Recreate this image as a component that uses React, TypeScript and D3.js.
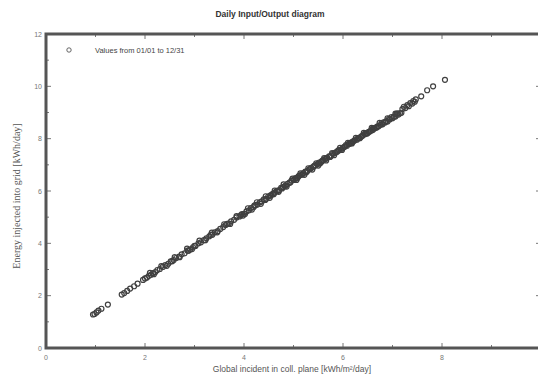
import * as d3 from 'd3';

const WIDTH = 538, HEIGHT = 379;
const M = { left: 46, right: 541, top: 34, bottom: 348 };

const TITLE = 'Daily Input/Output diagram';
const X_LABEL = 'Global incident in coll. plane [kWh/m\u00b2/day]';
const Y_LABEL = 'Energy injected into grid [kWh/day]';
const LEGEND = 'Values from 01/01 to 12/31';

const xTicks = [0, 2, 4, 6, 8];
const yTicks = [0, 2, 4, 6, 8, 10, 12];

// daily global incident irradiation (x) and energy into grid (y)
const irradiance = [
  0.95, 0.98, 1.02, 1.06, 1.12, 1.25, 1.53, 1.58, 1.64, 1.70, 1.78, 1.85, 1.96, 2.00, 2.04, 2.08,
  2.12, 2.16, 2.21, 2.25, 2.30, 2.36, 2.41, 2.47, 2.52, 2.58, 2.63, 2.69, 2.74, 2.80, 2.86, 2.91,
  2.97, 3.02, 3.08, 3.13, 3.19, 3.24, 3.30, 3.36, 3.41, 3.47, 3.52, 3.58, 3.63, 3.69, 3.74, 3.80,
  3.85, 3.91, 3.96, 4.00, 4.05, 4.10, 4.14, 4.19, 4.23, 4.27, 4.32, 4.36, 4.40, 4.45, 4.49, 4.53,
  4.58, 4.62, 4.66, 4.71, 4.75, 4.79, 4.84, 4.88, 4.92, 4.96, 5.00, 5.04, 5.08, 5.12, 5.16, 5.20,
  5.24, 5.28, 5.32, 5.36, 5.40, 5.44, 5.48, 5.52, 5.56, 5.60, 5.64, 5.68, 5.72, 5.76, 5.80, 5.84,
  5.88, 5.92, 5.96, 6.00, 6.04, 6.08, 6.12, 6.16, 6.20, 6.24, 6.28, 6.32, 6.36, 6.40, 6.44, 6.48,
  6.52, 6.56, 6.60, 6.64, 6.68, 6.72, 6.76, 6.80, 6.85, 6.90, 6.95, 7.00, 7.06, 7.12, 7.18, 7.23,
  7.30, 7.36, 7.42, 7.47, 7.70, 7.82, 8.06,
  4.02, 4.21, 4.43, 4.60, 4.77, 4.94, 5.10, 5.26, 5.42, 5.58, 5.74, 5.90, 6.06, 6.22, 6.38, 6.54,
  6.70, 6.87, 7.03, 7.15, 3.33, 3.66, 2.88, 2.55, 3.00, 3.94, 5.02, 5.54, 6.14, 6.62,
  2.10, 2.33, 2.60, 2.85, 3.10, 3.35, 3.60, 3.85, 4.08, 4.26, 4.44, 4.62, 4.80, 4.98, 5.14, 5.30,
  5.46, 5.62, 5.78, 5.94, 6.10, 6.26, 6.42, 6.58, 6.74, 6.90, 7.06, 7.20,
  2.18, 2.44, 2.70, 2.95, 3.22, 3.46, 3.72, 3.98, 4.16, 4.34, 4.52, 4.70, 4.86, 5.06, 5.22, 5.38,
  5.50, 5.66, 5.82, 5.98, 6.18, 6.34, 6.50, 6.66, 6.82, 6.98, 7.10, 7.26,
  4.55, 4.68, 4.82, 5.06, 5.18, 5.34, 5.50, 5.66, 5.86, 6.02, 6.18, 6.30, 6.46, 6.60, 6.78, 6.93,
  7.08, 7.33, 7.40, 7.45, 7.58,
];
const energy = [
  1.28, 1.30, 1.36, 1.43, 1.50, 1.66, 2.04, 2.10, 2.18, 2.27, 2.36, 2.46, 2.60, 2.66, 2.69, 2.76,
  2.80, 2.86, 2.90, 2.98, 3.02, 3.10, 3.17, 3.22, 3.31, 3.36, 3.44, 3.49, 3.58, 3.62, 3.72, 3.76,
  3.85, 3.90, 4.00, 4.04, 4.12, 4.19, 4.27, 4.33, 4.42, 4.47, 4.55, 4.62, 4.70, 4.75, 4.84, 4.90,
  4.99, 5.03, 5.12, 5.13, 5.22, 5.26, 5.35, 5.38, 5.46, 5.48, 5.57, 5.60, 5.68, 5.70, 5.79, 5.82,
  5.89, 5.94, 6.01, 6.03, 6.12, 6.15, 6.21, 6.27, 6.32, 6.40, 6.42, 6.49, 6.50, 6.59, 6.62, 6.68,
  6.74, 6.76, 6.83, 6.88, 6.92, 6.98, 7.02, 7.09, 7.11, 7.18, 7.22, 7.27, 7.32, 7.35, 7.42, 7.46,
  7.50, 7.56, 7.58, 7.65, 7.70, 7.73, 7.80, 7.83, 7.88, 7.94, 7.96, 8.03, 8.06, 8.12, 8.17, 8.19,
  8.26, 8.30, 8.33, 8.40, 8.43, 8.47, 8.53, 8.55, 8.62, 8.66, 8.74, 8.78, 8.85, 8.92, 8.99, 9.22,
  9.28, 9.36, 9.44, 9.50, 9.85, 10.00, 10.25,
  5.12, 5.44, 5.66, 5.88, 6.10, 6.33, 6.56, 6.72, 6.96, 7.15, 7.30, 7.54, 7.75, 7.92, 8.10, 8.27,
  8.47, 8.66, 8.84, 8.97, 4.32, 4.74, 3.72, 3.32, 3.90, 5.08, 6.45, 7.06, 7.82, 8.38,
  2.87, 3.13, 3.47, 3.80, 4.10, 4.41, 4.73, 5.04, 5.34, 5.57, 5.80, 6.02, 6.25, 6.47, 6.67, 6.87,
  7.06, 7.26, 7.45, 7.65, 7.84, 8.03, 8.22, 8.41, 8.60, 8.78, 8.96, 9.13,
  2.82, 3.14, 3.47, 3.78, 4.12, 4.42, 4.74, 5.06, 5.29, 5.51, 5.74, 5.97, 6.17, 6.42, 6.62, 6.82,
  6.97, 7.17, 7.37, 7.57, 7.82, 8.02, 8.22, 8.42, 8.62, 8.82, 8.97, 9.17,
  5.84, 6.00, 6.18, 6.48, 6.64, 6.84, 7.05, 7.24, 7.48, 7.68, 7.87, 8.01, 8.21, 8.38, 8.59, 8.76,
  8.93, 9.24, 9.34, 9.41, 9.62,
];

const x = d3.scaleLinear().domain([0, 10]).range([M.left, M.right]);
const y = d3.scaleLinear().domain([0, 12]).range([M.bottom, M.top]);

const SANS = 'Liberation Sans, Arial, sans-serif';

const App = () => {
  const xMinor = d3.range(0, 11, 1);
  const yMinor = d3.range(0, 13, 1);
  const points = irradiance.map((v, i) => [v, energy[i]]);

  return (
    <svg width={WIDTH} height={HEIGHT} style={{ position: 'absolute', left: 0, top: 0, background: '#fff' }}>
      <text x={270} y={17} textAnchor="middle" fontFamily={SANS} fontSize={8.5} fontWeight="bold" fill="#333">
        {TITLE}
      </text>

      {/* ticks, inward on all four sides */}
      <g stroke="#777" strokeWidth={1}>
        {xMinor.map((t) => {
          const len = t % 2 === 0 ? 5 : 3;
          return (
            <g key={'xt' + t}>
              <line x1={x(t)} x2={x(t)} y1={M.bottom} y2={M.bottom - len} />
              <line x1={x(t)} x2={x(t)} y1={M.top} y2={M.top + len} />
            </g>
          );
        })}
        {yMinor.map((t) => {
          const len = t % 2 === 0 ? 5 : 3;
          return (
            <g key={'yt' + t}>
              <line x1={M.left} x2={M.left + len} y1={y(t)} y2={y(t)} />
              <line x1={M.right} x2={M.right - len} y1={y(t)} y2={y(t)} />
            </g>
          );
        })}
      </g>

      <rect x={M.left} y={M.top} width={M.right - M.left} height={M.bottom - M.top}
        fill="none" stroke="#555" strokeWidth={3} />

      <g fontFamily={SANS} fontSize={7} fill="#777">
        {xTicks.map((t) => (
          <text key={'xl' + t} x={x(t)} y={M.bottom + 12} textAnchor="middle">{t}</text>
        ))}
        {yTicks.map((t) => (
          <text key={'yl' + t} x={M.left - 4} y={y(t) + 2.5} textAnchor="end">{t}</text>
        ))}
      </g>

      <g fill="none" stroke="#111" strokeWidth={1.2} opacity={0.8}>
        {points.map(([a, b], i) => (
          <circle key={i} cx={x(a)} cy={y(b)} r={2.5} />
        ))}
      </g>

      <circle cx={69} cy={50} r={2.2} fill="none" stroke="#555" strokeWidth={0.9} />
      <text x={95} y={53} fontFamily={SANS} fontSize={7.5} fill="#444">{LEGEND}</text>

      <text x={292} y={372} textAnchor="middle" fontFamily={SANS} fontSize={8.5} fill="#555">
        {X_LABEL}
      </text>
      <text transform="translate(20,196) rotate(-90)" textAnchor="middle"
        fontFamily="Liberation Serif, Times New Roman, serif" fontSize={10} fill="#555">
        {Y_LABEL}
      </text>
    </svg>
  );
};

export default App;
